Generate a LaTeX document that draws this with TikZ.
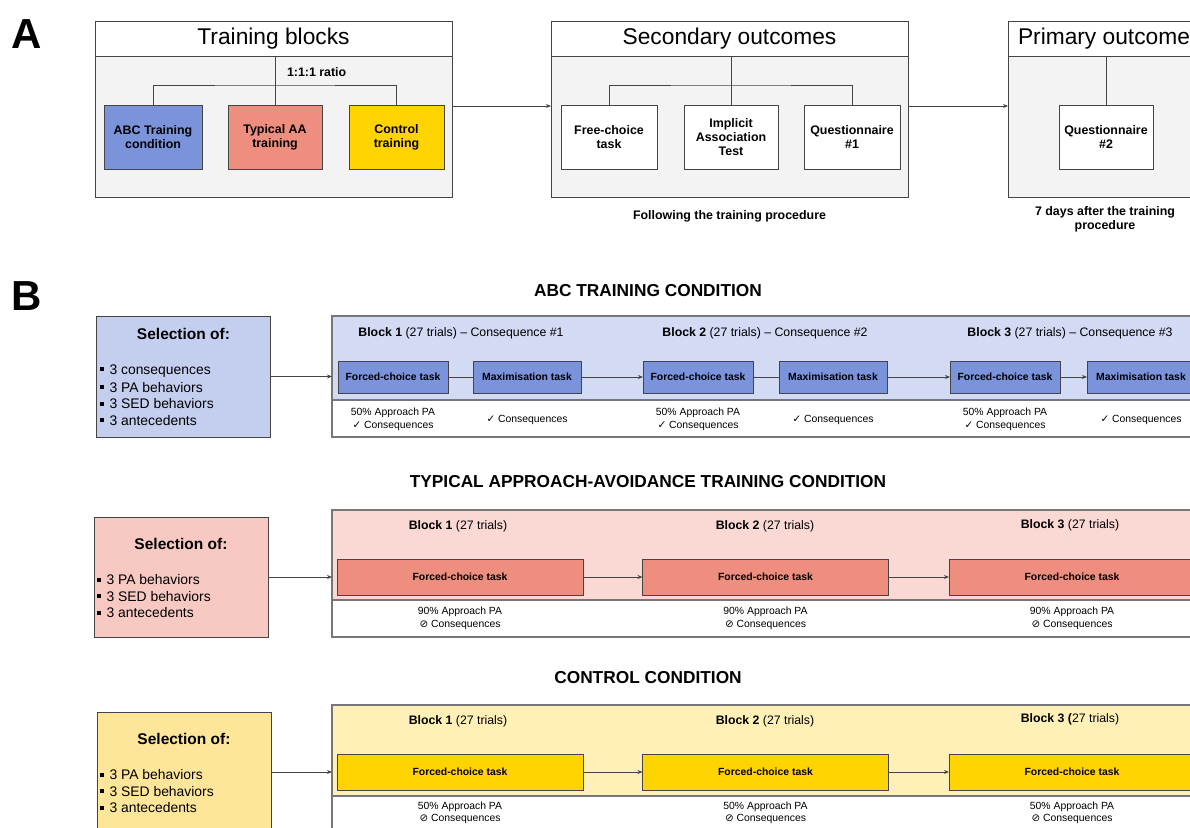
\documentclass[tikz,border=0pt]{standalone}
\usepackage{fontspec}
\setmainfont{Liberation Sans}
\newfontfamily\dejavu{DejaVu Sans}
\usetikzlibrary{arrows.meta}

\definecolor{panelgray}{HTML}{F3F3F3}
\definecolor{edge}{HTML}{444444}
\definecolor{stripedge}{HTML}{777777}
\definecolor{abcblue}{HTML}{7B93DA}
\definecolor{abcsel}{HTML}{C4CFF0}
\definecolor{abcstripfill}{HTML}{D2DAF4}
\definecolor{taared}{HTML}{EE8E7E}
\definecolor{taasel}{HTML}{F7C9C2}
\definecolor{taastripfill}{HTML}{FAD8D3}
\definecolor{ctlgold}{HTML}{FFD400}
\definecolor{ctlsel}{HTML}{FDE69A}
\definecolor{ctlstripfill}{HTML}{FEF0B6}

\newcommand{\fsz}[2]{\fontsize{#1}{#2}\selectfont}
\newcommand{\sqbullet}{\raisebox{3pt}{\rule{4pt}{4pt}}\hspace{5.5pt}}

\begin{document}
\begin{tikzpicture}[x=1pt, y=-1pt,
    every node/.style={inner sep=0pt, outer sep=0pt},
    titlebar/.style={draw=edge, line width=1pt, fill=white, minimum width=357pt, minimum height=35pt, font=\fsz{22.75}{27}},
    panel/.style={draw=edge, line width=1pt, fill=panelgray, minimum width=357pt, minimum height=141pt},
    choice/.style={draw=edge, line width=1pt, minimum height=64pt, align=center, font=\fsz{12.4}{14.3}\bfseries},
    link/.style={draw=edge, line width=1pt},
    arr/.style={link, -{Stealth[length=5pt, width=4pt]}},
    letter/.style={font=\fsz{42}{42}\bfseries},
    heading/.style={font=\fsz{17.3}{20}\bfseries},
    smallbold/.style={font=\fsz{12.4}{14.3}\bfseries, align=center},
    strip/.style={draw=stripedge, line width=1.5pt, minimum width=868pt},
    selbox/.style={draw=edge, line width=1pt, minimum width=174pt},
    seltitle/.style={font=\fsz{15.5}{18}\bfseries},
    selitem/.style={anchor=west, font=\fsz{13.9}{16.5}},
    blocklabel/.style={font=\fsz{12.3}{14}},
    task/.style={draw=edge, line width=1pt, font=\fsz{10.4}{12}\bfseries},
    note/.style={align=center, font=\fsz{10.4}{12.4}},
]
\useasboundingbox (0,0) rectangle (1190,827);
\clip (0,0) rectangle (1190,827);
\fill[white] (0,0) rectangle (1190,827);

% panel A
\node[letter] (lettera) at (27,34) {A};

\node[panel] (tbbody) at (273.5,126.5) {};
\node[titlebar] (tbtitle) at (273.5,38.5) {Training blocks};
\node[choice, fill=abcblue, minimum width=98pt] (abc) at (153,137) {ABC Training\\condition};
\node[choice, fill=taared, minimum width=94pt] (taa) at (275,137) {Typical AA\\training};
\node[choice, fill=ctlgold, minimum width=95pt] (ctl) at (396.5,137) {Control\\training};
\coordinate (tbsplit) at (275,85);
\draw[link] (taa.north |- tbtitle.south) -- (taa.north);
\draw[link] (abc.north) |- (tbsplit) -| (ctl.north);
\node[smallbold, anchor=west] (ratio) at (287,72) {1:1:1 ratio};

\node[panel] (sobody) at (729.5,126.5) {};
\node[titlebar] (sotitle) at (729.5,38.5) {Secondary outcomes};
\node[choice, fill=white, minimum width=96pt] (fct) at (609,137) {Free-choice\\task};
\node[choice, fill=white, minimum width=94pt] (iat) at (731,137) {Implicit\\Association\\Test};
\node[choice, fill=white, minimum width=96pt] (qone) at (852,137) {Questionnaire\\\#1};
\coordinate (sosplit) at (731,85);
\draw[link] (iat.north |- sotitle.south) -- (iat.north);
\draw[link] (fct.north) |- (sosplit) -| (qone.north);
\node[smallbold] (sonote) at (729.5,216) {Following the training procedure};

\node[panel] (pobody) at (1186.5,126.5) {};
\node[titlebar] (potitle) at (1186.5,38.5) {};
\node[font=\fsz{22.75}{27}, anchor=west] (poname) at (1018,38.5) {Primary outcome};
\node[choice, fill=white, minimum width=94pt] (qtwo) at (1106,137) {Questionnaire\\\#2};
\draw[link] (qtwo.north |- potitle.south) -- (qtwo.north);
\node[smallbold] (ponote) at (1105,219) {7 days after the training\\procedure};

\draw[arr] (tbbody.east |- 0,106) -- (sobody.west |- 0,106);
\draw[arr] (sobody.east |- 0,106) -- (pobody.west |- 0,106);

% panel B, ABC training
\node[letter] (letterb) at (27,296) {B};
\node[heading] (abchead) at (648,291) {ABC TRAINING CONDITION};

\node[selbox, fill=abcsel, minimum height=121pt] (sela) at (183.5,376.5) {};
\node[seltitle] (selatitle) at (183.5,334) {Selection of:};
\node[selitem] (sela1) at (100,371) {\sqbullet 3 consequences};
\node[selitem] (sela2) at (100,387.5) {\sqbullet 3 PA behaviors};
\node[selitem] (sela3) at (100,404) {\sqbullet 3 SED behaviors};
\node[selitem] (sela4) at (100,420.5) {\sqbullet 3 antecedents};

\fill[abcstripfill] (332,316) rectangle (1200,400);
\draw[draw=stripedge, line width=1.5pt] (332,400) -- (1200,400);
\node[strip, minimum height=121pt] (abcstrip) at (766,376.5) {};
\draw[arr] (sela) -- (abcstrip);

\node[blocklabel] (ablock1) at (461,333) {\textbf{Block 1} (27 trials) – Consequence \#1};
\node[blocklabel] (ablock2) at (765,333) {\textbf{Block 2} (27 trials) – Consequence \#2};
\node[blocklabel] (ablock3) at (1070,333) {\textbf{Block 3} (27 trials) – Consequence \#3};

\node[task, fill=abcblue, minimum width=110pt, minimum height=32pt] (afc1) at (393,377) {Forced-choice task};
\node[task, fill=abcblue, minimum width=108pt, minimum height=32pt] (amax1) at (527,377) {Maximisation task};
\node[task, fill=abcblue, minimum width=110pt, minimum height=32pt] (afc2) at (698,377) {Forced-choice task};
\node[task, fill=abcblue, minimum width=108pt, minimum height=32pt] (amax2) at (833,377) {Maximisation task};
\node[task, fill=abcblue, minimum width=110pt, minimum height=32pt] (afc3) at (1005,377) {Forced-choice task};
\node[task, fill=abcblue, minimum width=108pt, minimum height=32pt] (amax3) at (1141,377) {Maximisation task};
\draw[link] (afc1) -- (amax1);
\draw[arr] (amax1) -- (afc2);
\draw[link] (afc2) -- (amax2);
\draw[arr] (amax2) -- (afc3);
\draw[arr] (afc3) -- (amax3);

\node[note] (anote1) at (393,419.5) {50\% Approach PA\\{\dejavu ✓} Consequences};
\node[note] (anote2) at (527,419.5) {{\dejavu ✓} Consequences};
\node[note] (anote3) at (698,419.5) {50\% Approach PA\\{\dejavu ✓} Consequences};
\node[note] (anote4) at (833,419.5) {{\dejavu ✓} Consequences};
\node[note] (anote5) at (1005,419.5) {50\% Approach PA\\{\dejavu ✓} Consequences};
\node[note] (anote6) at (1141,419.5) {{\dejavu ✓} Consequences};

% panel B, typical approach-avoidance training
\node[heading] (taahead) at (648,482) {TYPICAL APPROACH-AVOIDANCE TRAINING CONDITION};

\node[selbox, fill=taasel, minimum height=120pt] (selt) at (181,577) {};
\node[seltitle] (seltitle) at (181,544) {Selection of:};
\node[selitem] (selt1) at (97,580) {\sqbullet 3 PA behaviors};
\node[selitem] (selt2) at (97,596.5) {\sqbullet 3 SED behaviors};
\node[selitem] (selt3) at (97,613) {\sqbullet 3 antecedents};

\fill[taastripfill] (332,510) rectangle (1200,600);
\draw[draw=stripedge, line width=1.5pt] (332,600) -- (1200,600);
\node[strip, minimum height=127pt] (taastrip) at (766,573.5) {};
\draw[arr] (selt.east) -- (selt.east -| taastrip.west);

\node[blocklabel] (tblock1) at (458,526) {\textbf{Block 1} (27 trials)};
\node[blocklabel] (tblock2) at (765,526) {\textbf{Block 2} (27 trials)};
\node[blocklabel] (tblock3) at (1070,525) {\textbf{Block 3} (27 trials)};

\node[task, fill=taared, minimum width=246pt, minimum height=36pt] (tfc1) at (460,577) {Forced-choice task};
\node[task, fill=taared, minimum width=246pt, minimum height=36pt] (tfc2) at (765.5,577) {Forced-choice task};
\node[task, fill=taared, minimum width=246pt, minimum height=36pt] (tfc3) at (1072,577) {Forced-choice task};
\draw[arr] (tfc1) -- (tfc2);
\draw[arr] (tfc2) -- (tfc3);

\node[note] (tnote1) at (460,618.5) {90\% Approach PA\\{\dejavu ⊘} Consequences};
\node[note] (tnote2) at (765.5,618.5) {90\% Approach PA\\{\dejavu ⊘} Consequences};
\node[note] (tnote3) at (1072,618.5) {90\% Approach PA\\{\dejavu ⊘} Consequences};

% panel B, control
\node[heading] (ctlhead) at (648,678) {CONTROL CONDITION};

\node[selbox, fill=ctlsel, minimum height=148pt] (selc) at (184,786) {};
\node[seltitle] (selctitle) at (184,739) {Selection of:};
\node[selitem] (selc1) at (100,775) {\sqbullet 3 PA behaviors};
\node[selitem] (selc2) at (100,791.5) {\sqbullet 3 SED behaviors};
\node[selitem] (selc3) at (100,808) {\sqbullet 3 antecedents};

\fill[ctlstripfill] (332,705) rectangle (1200,796);
\draw[draw=stripedge, line width=1.5pt] (332,796) -- (1200,796);
\node[strip, minimum height=155pt] (ctlstrip) at (766,782.5) {};
\draw[arr] (selc.east |- 0,772) -- (ctlstrip.west |- 0,772);

\node[blocklabel] (cblock1) at (458,721) {\textbf{Block 1} (27 trials)};
\node[blocklabel] (cblock2) at (765,721) {\textbf{Block 2} (27 trials)};
\node[blocklabel] (cblock3) at (1070,719) {\textbf{Block 3 (}27 trials)};

\node[task, fill=ctlgold, minimum width=246pt, minimum height=36pt] (cfc1) at (460,772) {Forced-choice task};
\node[task, fill=ctlgold, minimum width=246pt, minimum height=36pt] (cfc2) at (765.5,772) {Forced-choice task};
\node[task, fill=ctlgold, minimum width=246pt, minimum height=36pt] (cfc3) at (1072,772) {Forced-choice task};
\draw[arr] (cfc1) -- (cfc2);
\draw[arr] (cfc2) -- (cfc3);

\node[note] (cnote1) at (460,812.5) {50\% Approach PA\\{\dejavu ⊘} Consequences};
\node[note] (cnote2) at (765.5,812.5) {50\% Approach PA\\{\dejavu ⊘} Consequences};
\node[note] (cnote3) at (1072,812.5) {50\% Approach PA\\{\dejavu ⊘} Consequences};
\end{tikzpicture}
\end{document}
